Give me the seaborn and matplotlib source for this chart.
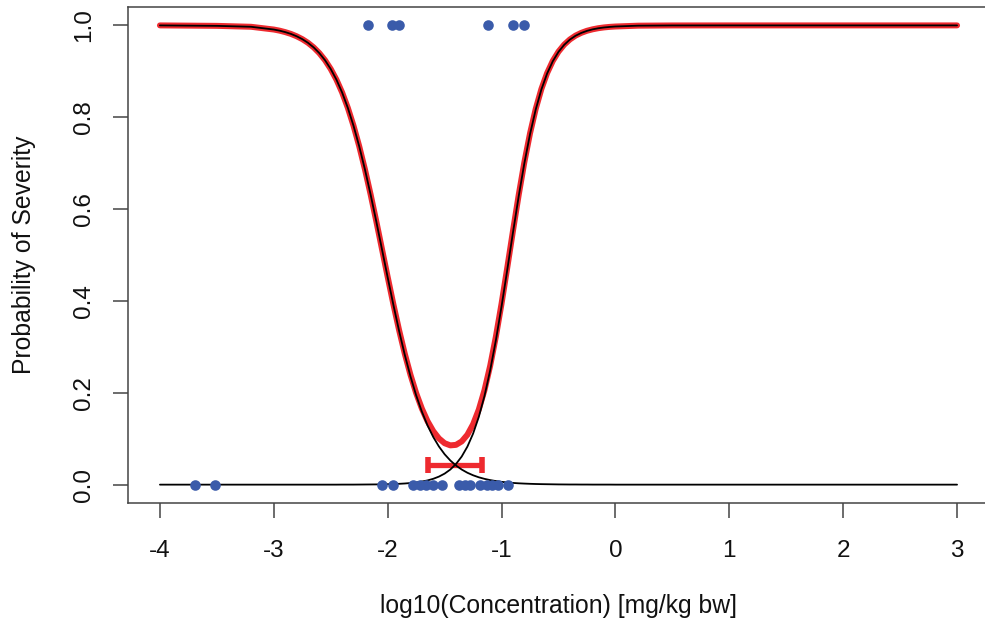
import numpy as np
import pandas as pd
import matplotlib
matplotlib.use("Agg")
import matplotlib.pyplot as plt
import seaborn as sns

# observed outcomes (log10 concentration)
severe_x = [-2.17, -1.96, -1.90, -1.12, -0.90, -0.80]
mild_x = [-3.69, -3.52, -2.05, -1.95, -1.78, -1.72, -1.66, -1.60, -1.52,
          -1.37, -1.32, -1.28, -1.19, -1.13, -1.08, -1.03, -0.94]

# fitted curves
curve_x = [-4.0, -3.5, -3.2,
           -3.0, -2.95, -2.9, -2.85, -2.8, -2.75, -2.7, -2.65, -2.6, -2.55,
           -2.5, -2.45, -2.4, -2.35, -2.3, -2.25, -2.2, -2.15, -2.1, -2.05,
           -2.0, -1.95, -1.9, -1.85, -1.8, -1.75, -1.7, -1.65, -1.6, -1.55,
           -1.5, -1.45, -1.4, -1.35, -1.3, -1.25, -1.2, -1.15, -1.1, -1.05,
           -1.0, -0.95, -0.9, -0.85, -0.8, -0.75, -0.7, -0.65, -0.6, -0.55,
           -0.5, -0.45, -0.4, -0.35, -0.3, -0.25, -0.2, -0.15, -0.1, -0.05,
           0.0, 0.2, 0.5, 1.0, 2.0, 3.0]
low_curve = [1.0, 0.999, 0.997,
             0.9910, 0.9886, 0.9854, 0.9815, 0.9764, 0.9701, 0.9621, 0.9521, 0.9396, 0.9241,
             0.9050, 0.8818, 0.8538, 0.8204, 0.7814, 0.7367, 0.6865, 0.6316, 0.5730, 0.5122,
             0.4512, 0.3915, 0.3349, 0.2827, 0.2358, 0.1945, 0.1590, 0.1289, 0.1038, 0.0831,
             0.0662, 0.0526, 0.0416, 0.0329, 0.0259, 0.0204, 0.0160, 0.0126, 0.0099, 0.0078,
             0.0061, 0.0048, 0.0037, 0.0029, 0.0023, 0.0018, 0.0014, 0.0011, 0.0009, 0.0007,
             0.0005, 0.0004, 0.0003, 0.0003, 0.0002, 0.0002, 0.0001, 0.0001, 0.0001, 0.0001,
             0.0, 0.0, 0.0, 0.0, 0.0, 0.0]
high_curve = [0.0, 0.0, 0.0,
              0.0, 0.0, 0.0, 0.0, 0.0, 0.0, 0.0, 0.0, 0.0, 0.0,
              0.0, 0.0, 0.0001, 0.0001, 0.0001, 0.0002, 0.0003, 0.0004, 0.0005, 0.0007,
              0.0010, 0.0013, 0.0018, 0.0025, 0.0035, 0.0048, 0.0067, 0.0092, 0.0127, 0.0175,
              0.0240, 0.0329, 0.0450, 0.0612, 0.0828, 0.1111, 0.1474, 0.1931, 0.2489, 0.3143,
              0.3882, 0.4675, 0.5486, 0.6271, 0.6995, 0.7631, 0.8168, 0.8606, 0.8952, 0.9220,
              0.9424, 0.9577, 0.9691, 0.9775, 0.9836, 0.9881, 0.9914, 0.9938, 0.9955, 0.9967,
              0.9976, 0.9994, 0.9999, 1.0, 1.0, 1.0]

# interval shown at the crossing
bar_y = 0.043
bar_center = -1.41
bar_low = -1.65
bar_high = -1.17

red = "#EE2A2F"
blue = "#3A5BAA"

both = np.minimum(np.array(low_curve) + np.array(high_curve), 1.0)

sns.set_theme(style="white")
plt.rcParams['font.family'] = ['Liberation Sans', 'DejaVu Sans']
plt.rcParams['axes.unicode_minus'] = False

fig = plt.figure(figsize=(9.85, 6.22), dpi=100)
ax = fig.add_axes([0.130, 0.1913, 0.874, 0.7974])

sns.lineplot(x=curve_x, y=both, color=red, linewidth=4.3, sort=False, estimator=None, ax=ax)
ax.errorbar(bar_center, bar_y, xerr=[[bar_center - bar_low], [bar_high - bar_center]],
            color=red, linewidth=3.8, capsize=6, capthick=4, zorder=3)
sns.lineplot(x=curve_x, y=low_curve, color="black", linewidth=1.3, sort=False, estimator=None, ax=ax, zorder=4)
sns.lineplot(x=curve_x, y=high_curve, color="black", linewidth=1.3, sort=False, estimator=None, ax=ax, zorder=4)

pts = pd.DataFrame({"x": severe_x + mild_x,
                    "y": [1.0] * len(severe_x) + [0.0] * len(mild_x)})
sns.scatterplot(data=pts, x="x", y="y", color=blue, s=58, linewidth=0, ax=ax, zorder=5)

ax.set_xlim(-4.28, 3.28)
ax.set_ylim(-0.04, 1.04)
ax.set_xticks(range(-4, 4))
ax.set_yticks([0.0, 0.2, 0.4, 0.6, 0.8, 1.0])
ax.set_yticklabels(["0.0", "0.2", "0.4", "0.6", "0.8", "1.0"], rotation=90, va="center")

for s in ax.spines.values():
    s.set_color("#444444")
    s.set_linewidth(1.1)
ax.tick_params(bottom=True, left=True, direction="out", length=10.5, width=1.1,
               color="#444444", labelsize=17.5, labelcolor="#111111")
ax.tick_params(axis="x", pad=16)
ax.tick_params(axis="y", pad=13)

ax.set_xlabel("log10(Concentration) [mg/kg bw]", fontsize=17.8, color="#111111")
ax.set_ylabel("Probability of Severity", fontsize=17.8, color="#111111")
ax.xaxis.set_label_coords(0.5, -0.2077)
ax.xaxis.label.set_va("center")
ax.yaxis.set_label_coords(-0.1208, 0.5)
ax.yaxis.label.set_va("center")

fig.savefig("out.png", dpi=100)
